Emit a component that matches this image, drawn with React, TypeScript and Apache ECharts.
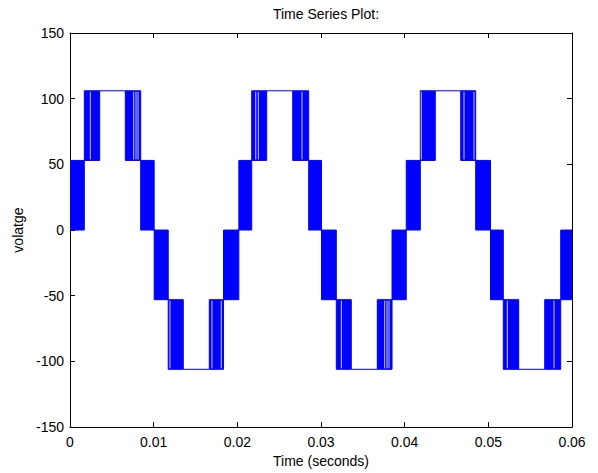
import React, { useEffect, useRef } from "react";
import * as echarts from "echarts";

// Band boundaries (seconds): 3 periods x 10 segments
const edges = [
  0, 0.00171, 0.00355, 0.00661, 0.00845, 0.01006, 0.01174, 0.01354, 0.01665, 0.01835,
  0.02018, 0.02172, 0.02351, 0.02662, 0.02853, 0.03006, 0.03183, 0.03362, 0.03673, 0.03849,
  0.04019, 0.04187, 0.04366, 0.0467, 0.04849, 0.05026, 0.05179, 0.05363, 0.05674, 0.05865,
  0.06,
];
// lower / upper voltage level of each segment (equal = flat line)
const segLow = [
  0, 53, 106, 53, 0, -53, -106, -106, -106, -53,
  0, 53, 106, 53, 0, -53, -106, -106, -106, -53,
  0, 53, 106, 53, 0, -53, -106, -106, -106, -53,
];
const segHigh = [
  53, 106, 106, 106, 53, 0, -53, -106, -53, 0,
  53, 106, 106, 106, 53, 0, -53, -106, -53, 0,
  53, 106, 106, 106, 53, 0, -53, -106, -53, 0,
];
// thin gaps visible inside the dense switching bands
const gapTimes = [
  0.00243, 0.00761, 0.00789, 0.00813, 0.01195, 0.01697, 0.01808, 0.0222, 0.02251, 0.02773,
  0.03243, 0.03761, 0.03789, 0.03813, 0.04199, 0.04709, 0.04829, 0.05227, 0.05785,
];
const gapLow = [53, 53, 53, 53, -106, -106, -106, 53, 53, 53, -106, -106, -106, -106, 53, 53, 53, -106, -106];
const gapHigh = [106, 106, 106, 106, -53, -53, -53, 106, 106, 106, -53, -53, -53, -53, 106, 106, 106, -53, -53];

const xTicks = ["0", "0.01", "0.02", "0.03", "0.04", "0.05", "0.06"];

const FONT = "'Liberation Sans', Arial, sans-serif";
const TICKFONT = "'Liberation Sans Narrow', 'Liberation Sans', Arial, sans-serif";

export default function App() {
  const ref = useRef<HTMLDivElement>(null);
  useEffect(() => {
    if (!ref.current) return;
    const chart = echarts.init(ref.current, null, { renderer: "svg" });
    const segData = segLow.map((lo, i) => [edges[i], edges[i + 1], lo, segHigh[i]]);
    const gapData = gapTimes.map((t, i) => [t, gapLow[i], gapHigh[i]]);
    const axisCommon = {
      axisLine: { show: true, onZero: false, lineStyle: { color: "#000", width: 1 } },
      axisTick: { show: true, inside: true, length: 5, lineStyle: { color: "#000" } },
      splitLine: { show: false },
    };
    chart.setOption({
      animation: false,
      backgroundColor: "#fff",
      title: {
        text: "Time Series Plot:",
        left: 321,
        top: 2,
        textAlign: "center",
        textStyle: { fontFamily: FONT, fontSize: 14, fontWeight: "normal", color: "#000" },
      },
      grid: { left: 70, right: 26, top: 33, bottom: 41 },
      xAxis: [
        {
          type: "value",
          min: 0,
          max: 0.06,
          interval: 0.01,
          position: "bottom",
          ...axisCommon,
          axisLabel: {
            margin: 8,
            color: "#000",
            fontFamily: TICKFONT,
            fontSize: 14,
            showMinLabel: true,
            showMaxLabel: true,
            formatter: (v: number) => xTicks[Math.round(v / 0.01)] ?? "",
          },
          name: "Time (seconds)",
          nameLocation: "middle",
          nameGap: 24,
          nameTextStyle: { fontFamily: FONT, fontSize: 14, color: "#000" },
        },
        {
          type: "value",
          min: 0,
          max: 0.06,
          interval: 0.01,
          position: "top",
          ...axisCommon,
          axisLabel: { show: false },
        },
      ],
      yAxis: [
        {
          type: "value",
          min: -150,
          max: 150,
          interval: 50,
          position: "left",
          ...axisCommon,
          axisLabel: {
            margin: 6,
            color: "#000",
            fontFamily: TICKFONT,
            fontSize: 14,
            showMinLabel: true,
            showMaxLabel: true,
          },
          name: "volatge",
          nameLocation: "middle",
          nameGap: 43,
          nameTextStyle: { fontFamily: FONT, fontSize: 14, color: "#000" },
        },
        {
          type: "value",
          min: -150,
          max: 150,
          interval: 50,
          position: "right",
          ...axisCommon,
          axisLabel: { show: false },
        },
      ],
      series: [
        {
          type: "custom",
          xAxisIndex: 0,
          yAxisIndex: 0,
          data: segData,
          clip: true,
          renderItem: (params: any, api: any) => {
            const t0 = api.value(0);
            const t1 = api.value(1);
            const lo = api.value(2);
            const hi = api.value(3);
            const p0 = api.coord([t0, hi]);
            const p1 = api.coord([t1, lo]);
            if (lo === hi) {
              return {
                type: "line",
                shape: { x1: p0[0], y1: p0[1], x2: p1[0], y2: p1[1] },
                style: { stroke: "#0000ff", lineWidth: 1 },
              };
            }
            return {
              type: "rect",
              shape: { x: p0[0], y: p0[1], width: p1[0] - p0[0], height: p1[1] - p0[1] },
              style: { fill: "#0000ff", stroke: "#0000ff", lineWidth: 1 },
            };
          },
        },
        {
          type: "custom",
          xAxisIndex: 0,
          yAxisIndex: 0,
          data: gapData,
          renderItem: (params: any, api: any) => {
            const t = api.value(0);
            const a = api.coord([t, api.value(2)]);
            const b = api.coord([t, api.value(1)]);
            return {
              type: "line",
              shape: { x1: a[0], y1: a[1] + 1, x2: b[0], y2: b[1] - 1 },
              style: { stroke: "#c8c8ff", lineWidth: 1 },
            };
          },
        },
      ],
    });
    return () => chart.dispose();
  }, []);
  return (
    <div
      ref={ref}
      style={{ position: "fixed", left: 0, top: 0, width: 598, height: 473, background: "#fff" }}
    />
  );
}
